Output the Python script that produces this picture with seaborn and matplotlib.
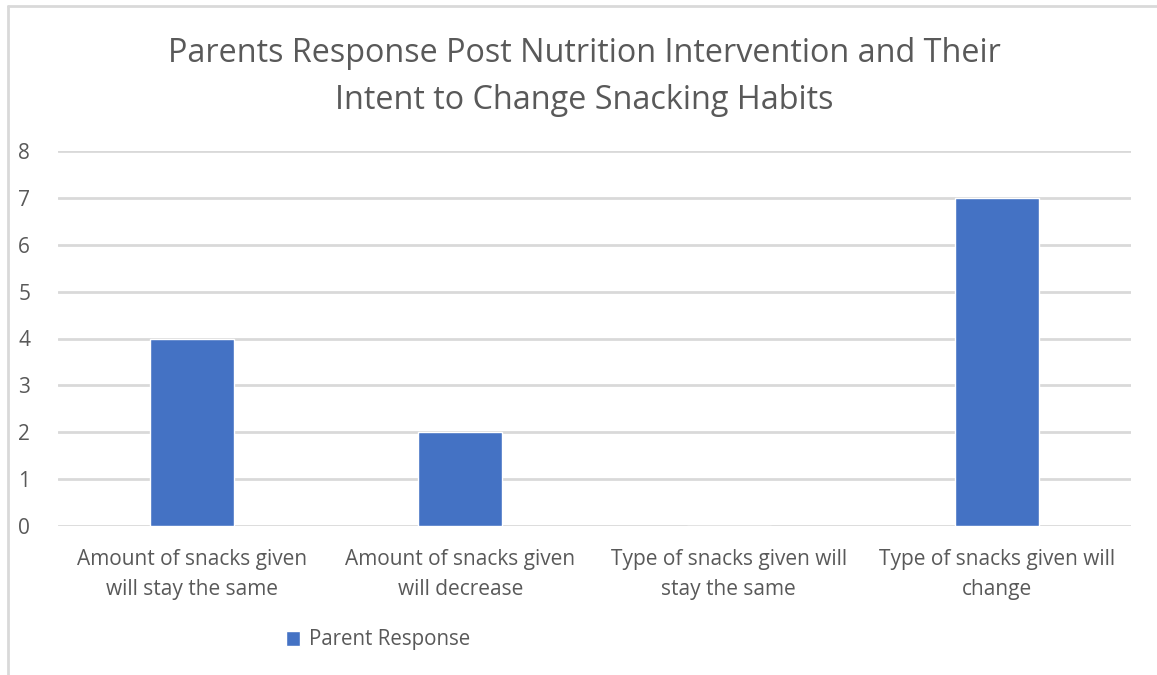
import matplotlib
matplotlib.use("Agg")
import matplotlib.pyplot as plt
from matplotlib.lines import Line2D
import seaborn as sns
import pandas as pd

# Survey results
categories = [
    "Amount of snacks given\nwill stay the same",
    "Amount of snacks given\nwill decrease",
    "Type of snacks given will\nstay the same",
    "Type of snacks given will\nchange",
]
responses = [4, 2, 0, 7]
series_name = "Parent Response"
y_ticks = [0, 1, 2, 3, 4, 5, 6, 7, 8]
title = "Parents Response Post Nutrition Intervention and Their\nIntent to Change Snacking Habits"

df = pd.DataFrame({"Category": categories, "Count": responses, "Series": series_name})

sns.set_theme(style="white")
plt.rcParams["font.family"] = ["Open Sans", "DejaVu Sans"]

text_color = "#595959"
grid_color = "#D9D9D9"
bar_color = "#4472C4"

W, H = 1157, 675
fig = plt.figure(figsize=(W / 100, H / 100), dpi=100)
ax = fig.add_axes([58 / W, 1 - 526 / H, (1131 - 58) / W, (526 - 151) / H])

sns.barplot(data=df, x="Category", y="Count", hue="Series", palette=[bar_color],
            width=0.313, ax=ax, legend=True, saturation=1)

ax.set_ylim(0, 8)
ax.set_xlim(-0.5, 3.5)
ax.set_yticks(y_ticks)
ax.set_yticklabels([str(t) for t in y_ticks])
ax.yaxis.grid(True, color=grid_color, linewidth=2)
ax.set_axisbelow(True)
for s in ax.spines.values():
    s.set_visible(False)
ax.set_xlabel("")
ax.set_ylabel("")
ax.tick_params(axis="y", length=0, pad=20, labelsize=15, labelcolor=text_color)
ax.tick_params(axis="x", length=0, pad=16.5, labelsize=15, labelcolor=text_color)
for lbl in ax.get_xticklabels():
    lbl.set_linespacing(1.55)

leg = ax.legend(loc="center left", bbox_to_anchor=(286 / W, 1 - 640 / H),
                bbox_transform=fig.transFigure, frameon=False, fontsize=14.8,
                handlelength=0.7, handleheight=0.7, handletextpad=0.4,
                borderaxespad=0, borderpad=0)
for t in leg.get_texts():
    t.set_color(text_color)

fig.text(0.5 * (168 + 1000) / W, 1 - 77 / H, title, ha="center", va="center",
         fontsize=23.3, color=text_color, linespacing=1.55)

# Chart frame (left and top edges)
fig.add_artist(Line2D([8 / W, 8 / W], [0, 1 - 6 / H], transform=fig.transFigure,
                      color=grid_color, linewidth=2))
fig.add_artist(Line2D([8 / W, 1], [1 - 6 / H, 1 - 6 / H], transform=fig.transFigure,
                      color=grid_color, linewidth=2))

fig.savefig("out.png", dpi=100, facecolor="white")
